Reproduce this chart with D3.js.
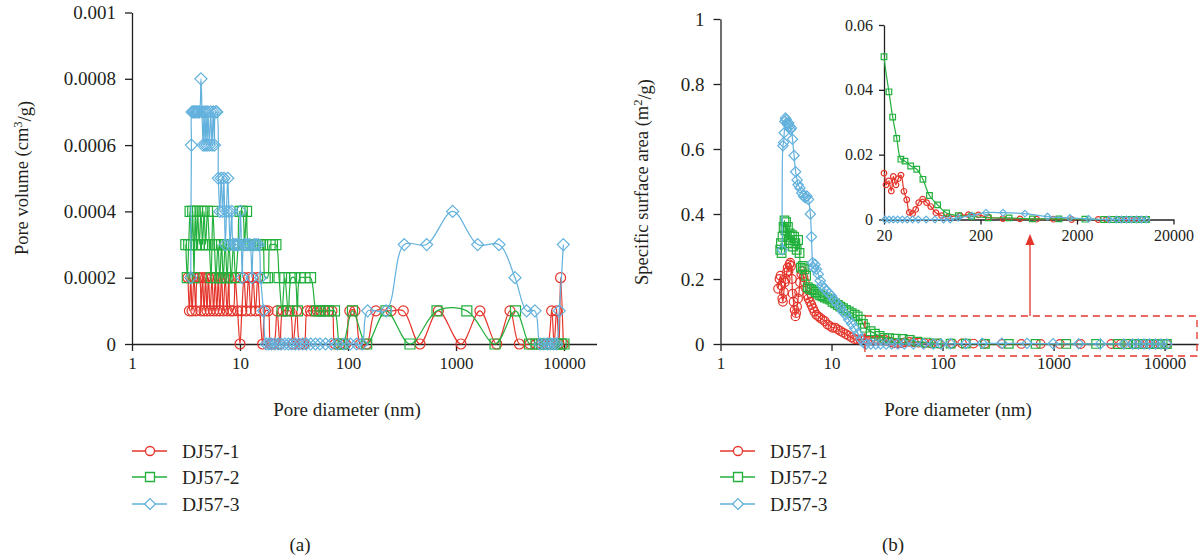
<!DOCTYPE html>
<html>
<head>
<meta charset="utf-8">
<script src="https://cdn.jsdelivr.net/npm/d3@7"></script>
<style>
  body { margin: 0; background: #fff; }
  svg, svg text { font-family: "Liberation Serif", "DejaVu Serif", serif !important; }
  text { fill: #231f20; }
</style>
</head>
<body>
<svg id="chart" width="1201" height="559"></svg>
<script>
// series names / colours / marker shapes
const seriesNames = ["DJ57-1", "DJ57-2", "DJ57-3"];
const seriesColors = ["#e4342a", "#22b03c", "#62b1dd"];
const seriesShapes = ["circle", "square", "diamond"];

// (a) pore volume, [pore diameter nm, cm3/g]
const volumeDJ1 = [[3.3,0.0002],[3.4,0.0001],[3.5,0.0002],[3.6,0.0001],[3.75,0.0002],[3.9,0.0001],[4.05,0.0002],[4.2,0.0002],[4.35,0.0001],[4.5,0.0002],[4.65,0.0001],[4.8,0.0002],[4.95,0.0001],[5.1,0.0002],[5.3,0.0001],[5.5,0.0002],[5.7,0.0001],[5.9,0.0002],[6.1,0.0001],[6.3,0.0002],[6.5,0.0001],[6.75,0.0002],[7.0,0.0001],[7.3,0.0002],[7.6,0.0001],[7.9,0.0002],[8.2,0.0001],[8.6,0.0001],[9.0,0.0002],[9.5,0.0001],[10.0,0],[10.4,0.0001],[10.9,0.0002],[11.4,0.0001],[12.0,0.0002],[12.6,0.0001],[13.2,0.0002],[13.9,0.0001],[14.6,0.0002],[15.3,0.0001],[16.2,0],[17.2,0.0001],[18.2,0.0001],[19.3,0],[20.5,0],[22,0.0001],[23.5,0],[25,0.0001],[27,0.0001],[29,0.0001],[31,0],[33.5,0.0001],[36,0],[39,0],[42,0.0001],[45,0.0001],[48,0.0001],[52,0.0001],[56,0.0001],[61,0.0001],[66,0.0001],[71,0.0001],[76,0],[84,0],[95,0],[104,0.0001],[116,0.0001],[130,0],[149,0],[181,0.0001],[250,0.0001],[325,0.0001],[464,0],[686,0.0001],[1112,0],[1667,0.0001],[2382,0],[3162,0.0001],[3856,0],[4842,0],[5500,0],[6200,0],[7000,0],[7690,0.0001],[8100,0],[8550,0.0001],[9000,0],[9300,0.0002],[9860,0]];
const volumeDJ2 = [[3.15,0.0003],[3.25,0.0002],[3.35,0.0003],[3.45,0.0004],[3.55,0.0003],[3.65,0.0004],[3.75,0.0002],[3.85,0.0004],[3.95,0.0003],[4.05,0.0004],[4.2,0.0003],[4.35,0.0004],[4.5,0.0003],[4.65,0.0004],[4.8,0.0003],[5.0,0.0004],[5.2,0.0003],[5.4,0.0002],[5.6,0.0004],[5.8,0.0003],[6.0,0.0002],[6.25,0.0003],[6.5,0.0002],[6.75,0.0003],[7.0,0.0002],[7.3,0.0003],[7.6,0.0002],[7.9,0.0003],[8.3,0.0002],[8.7,0.0003],[9.1,0.0002],[9.6,0.0003],[10.0,0.0004],[10.5,0.0004],[11.0,0.0003],[11.5,0.0004],[12.0,0.0003],[12.6,0.0003],[13.2,0.0003],[13.9,0.0003],[14.6,0.0003],[15.4,0.0003],[16.2,0.0003],[17.1,0.0002],[18.0,0.0002],[19.0,0.0003],[20,0.0003],[21.5,0.0003],[23,0.0002],[24.5,0.0001],[26,0.0002],[28,0.0001],[30,0.0002],[32,0.0002],[34,0.0001],[36,0.0002],[40,0.0002],[45,0.0002],[51,0.0001],[55,0.0001],[60,0.0001],[66,0.0001],[75,0.0001],[84,0],[90,0],[110,0.0001],[149,0],[225,0.0001],[375,0],[667,0.0001],[1260,0.0001],[2300,0],[3556,0.0001],[4800,0],[5500,0],[6200,0],[7000,0],[7800,0],[8600,0],[9400,0],[10000,0]];
const volumeDJ3 = [[3.5,0.0002],[3.55,0.0006],[3.6,0.0007],[3.7,0.0007],[3.8,0.0007],[3.9,0.0007],[4.0,0.0007],[4.1,0.0007],[4.2,0.0007],[4.35,0.0008],[4.45,0.0007],[4.55,0.0006],[4.65,0.0007],[4.75,0.0006],[4.85,0.0007],[4.95,0.0006],[5.05,0.0007],[5.2,0.0006],[5.35,0.0007],[5.5,0.0006],[5.65,0.0007],[5.8,0.0006],[5.95,0.0007],[6.1,0.0007],[6.3,0.0005],[6.5,0.0004],[6.7,0.0005],[6.9,0.0004],[7.1,0.0005],[7.3,0.0003],[7.5,0.0004],[7.7,0.0005],[7.9,0.0004],[8.1,0.0003],[8.4,0.0004],[8.7,0.0003],[9.0,0.0003],[9.4,0.0003],[9.7,0.0003],[10.1,0.0004],[10.5,0.0002],[10.9,0.0003],[11.3,0.0003],[11.8,0.0003],[12.3,0.0003],[12.9,0.0002],[13.5,0.0003],[14.1,0.0003],[14.8,0.0003],[15.5,0.0002],[16.5,0.0001],[17.5,0],[18.5,0],[19.5,0],[21,0],[22.5,0],[24,0],[26,0],[28,0],[30,0],[32.5,0],[35,0],[38,0],[41,0],[45,0],[50,0],[55,0],[62,0],[70,0],[80,0],[92,0],[105,0],[120,0],[135,0],[152,0.0001],[225,0.0001],[332,0.0003],[535,0.0003],[931,0.0004],[1587,0.0003],[2500,0.0003],[3518,0.0002],[4510,0.0001],[5380,0.0001],[6000,0],[6500,0],[7000,0],[7500,0],[8000,0],[8500,0],[9040,0.0001],[9860,0.0003]];

// (b) specific surface area, [pore diameter nm, m2/g]
const areaDJ1 = [[3.3,0.17],[3.4,0.2],[3.47,0.21],[3.53,0.18],[3.6,0.14],[3.65,0.13],[3.72,0.16],[3.8,0.19],[3.87,0.2],[3.95,0.22],[4.02,0.235],[4.1,0.225],[4.18,0.245],[4.25,0.25],[4.32,0.24],[4.4,0.2],[4.46,0.155],[4.55,0.13],[4.65,0.105],[4.73,0.085],[4.8,0.095],[4.9,0.115],[5.0,0.14],[5.1,0.16],[5.2,0.19],[5.35,0.215],[5.45,0.225],[5.6,0.205],[5.75,0.19],[5.9,0.17],[6.05,0.15],[6.2,0.14],[6.4,0.13],[6.6,0.12],[6.8,0.11],[7.0,0.1],[7.3,0.09],[7.6,0.085],[7.9,0.08],[8.3,0.075],[8.7,0.07],[9.2,0.06],[9.7,0.055],[10.2,0.05],[10.8,0.05],[11.4,0.045],[12,0.04],[12.7,0.035],[13.5,0.03],[14.3,0.025],[15.2,0.02],[16.1,0.015],[17.1,0.014],[18.2,0.013],[19.2,0.014],[20,0.0143],[21,0.0107],[22.4,0.0119],[23.8,0.0088],[25,0.0133],[26.6,0.0107],[28.1,0.0126],[30,0.0137],[32.2,0.0087],[34.4,0.0061],[36.6,0.0022],[39.6,0.0018],[42.6,0.0031],[45.8,0.0052],[50.3,0.0063],[55.3,0.0052],[61,0.004],[69,0.0021],[79,0.0012],[93,0.0009],[123,0.0012],[150,0.0015],[190,0.0014],[241,0.0007],[342,0.0003],[513,0.0002],[764,0.0001],[1139,0.0001],[1758,0],[3312,0],[4040,0],[5150,0],[6000,0],[6900,0],[7900,0],[9100,0],[10500,0]];
const areaDJ2 = [[3.45,0.29],[3.5,0.31],[3.55,0.28],[3.62,0.33],[3.7,0.36],[3.77,0.38],[3.84,0.35],[3.9,0.375],[3.97,0.33],[4.05,0.36],[4.12,0.32],[4.2,0.34],[4.3,0.31],[4.4,0.335],[4.5,0.3],[4.6,0.33],[4.72,0.31],[4.85,0.29],[5.0,0.32],[5.15,0.28],[5.3,0.235],[5.5,0.24],[5.7,0.23],[5.9,0.21],[6.1,0.175],[6.35,0.17],[6.6,0.168],[6.9,0.165],[7.2,0.16],[7.5,0.155],[7.9,0.15],[8.3,0.147],[8.7,0.143],[9.2,0.14],[9.7,0.137],[10.2,0.13],[10.8,0.125],[11.4,0.12],[12,0.115],[12.7,0.11],[13.5,0.105],[14.3,0.1],[15.2,0.095],[16.2,0.09],[17.2,0.085],[18.4,0.075],[19.2,0.062],[20,0.0502],[22.5,0.0394],[24.6,0.0316],[27.1,0.025],[29.9,0.0186],[33,0.018],[37.8,0.0165],[43.7,0.0155],[50.6,0.0124],[59.2,0.0074],[71.9,0.0045],[89,0.002],[118,0.0012],[162,0.001],[241,0.0005],[395,0.0005],[689,0.0002],[1300,0.0002],[2417,0.0001],[3780,0],[4700,0],[5500,0],[6400,0],[7400,0],[8500,0],[9600,0],[10500,0]];
const areaDJ3 = [[3.6,0.29],[3.65,0.61],[3.7,0.62],[3.75,0.65],[3.8,0.685],[3.85,0.695],[3.9,0.69],[3.97,0.68],[4.05,0.675],[4.12,0.68],[4.2,0.67],[4.27,0.66],[4.35,0.665],[4.45,0.63],[4.6,0.58],[4.75,0.53],[4.9,0.505],[5.0,0.49],[5.2,0.48],[5.4,0.465],[5.6,0.455],[5.8,0.45],[6.0,0.455],[6.2,0.445],[6.45,0.40],[6.6,0.33],[6.75,0.25],[6.9,0.235],[7.1,0.245],[7.3,0.23],[7.6,0.215],[7.9,0.195],[8.2,0.18],[8.6,0.17],[9.0,0.165],[9.5,0.155],[10,0.148],[10.6,0.135],[11.2,0.125],[11.9,0.115],[12.6,0.1],[13.4,0.09],[14.3,0.075],[15.2,0.062],[16.2,0.048],[17.3,0.032],[18.5,0.015],[19.6,0.003],[20.5,0],[22.6,0],[25,0],[27.7,0],[31,0],[34.8,0],[39.6,0],[45.3,0],[54.7,0],[67.4,0],[82.8,0],[96.9,0],[118,0.0005],[162,0.0012],[228,0.0021],[343,0.0021],[577,0.0018],[990,0.0009],[1687,0.0005],[2634,0.0002],[4300,0],[5150,0],[5800,0],[6530,0],[7300,0],[8270,0],[9300,0],[10470,0]];

// tick labels
const diameterTicks = [1, 10, 100, 1000, 10000];
const volumeTicks = [0, 0.0002, 0.0004, 0.0006, 0.0008, 0.001];
const areaTicks = [0, 0.2, 0.4, 0.6, 0.8, 1];
const insetDiameterTicks = [20, 200, 2000, 20000];
const insetAreaTicks = [0, 0.02, 0.04, 0.06];

const FONT = '"Liberation Serif", "DejaVu Serif", serif';
const svg = d3.select("#chart").attr("font-family", FONT);

function markerPath(shape, s) {
  if (shape === "circle") return `M${-s},0A${s},${s} 0 1,0 ${s},0A${s},${s} 0 1,0 ${-s},0Z`;
  if (shape === "square") return `M${-s},${-s}H${s}V${s}H${-s}Z`;
  return `M0,${-s}L${s},0L0,${s}L${-s},0Z`;
}

const markerSizes = { circle: 1, square: 1, diamond: 1.2 };

function drawSeries(g, data, x, y, i, size, clip) {
  const line = d3.line()
    .x(d => x(d[0]))
    .y(d => y(d[1]))
    .curve(d3.curveCatmullRom.alpha(0.5));
  const sg = g.append("g");
  const path = sg.append("path")
    .datum(data)
    .attr("fill", "none")
    .attr("stroke", seriesColors[i])
    .attr("stroke-width", 1.2)
    .attr("d", line);
  if (clip) path.attr("clip-path", `url(#${clip})`);
  sg.selectAll("path.mark")
    .data(clip ? data.filter(d => d[0] >= 20) : data)
    .join("path")
    .attr("class", "mark")
    .attr("transform", d => `translate(${x(d[0])},${y(d[1])})`)
    .attr("d", markerPath(seriesShapes[i], size * markerSizes[seriesShapes[i]]))
    .attr("fill", "none")
    .attr("stroke", seriesColors[i])
    .attr("stroke-width", 1.2);
}

function drawAxes(g, x, y, xTicks, yTicks, opts) {
  const minor = opts.minorTicks || x.ticks().filter(t => !xTicks.includes(t));
  const gx = g.append("g").attr("transform", `translate(0,${y.range()[0]})`);
  gx.call(d3.axisBottom(x).tickValues(minor).tickSize(opts.minorSize).tickSizeOuter(0).tickFormat(""));
  gx.call(d3.axisBottom(x).tickValues(xTicks).tickSize(opts.majorSize).tickSizeOuter(0)
    .tickPadding(opts.padX).tickFormat(d3.format("d")));
  gx.attr("font-family", FONT);
  gx.selectAll("line, path").attr("stroke", "#231f20").attr("stroke-width", 1.3);
  gx.selectAll("text").style("font-family", FONT).style("font-size", opts.xFont + "px").style("fill", "#231f20");

  const gy = g.append("g").attr("transform", `translate(${x.range()[0]},0)`);
  gy.call(d3.axisLeft(y).tickValues(yTicks).tickSize(opts.majorSize).tickSizeOuter(0)
    .tickPadding(opts.padY).tickFormat(d => String(d)));
  gy.attr("font-family", FONT);
  gy.selectAll("line, path").attr("stroke", "#231f20").attr("stroke-width", 1.3);
  gy.selectAll("text").style("font-family", FONT).style("font-size", opts.yFont + "px").style("fill", "#231f20");
}

function drawLegend(lx, rows) {
  const lg = svg.append("g");
  seriesNames.forEach((name, i) => {
    const ly = rows[i];
    lg.append("line").attr("x1", lx).attr("x2", lx + 35).attr("y1", ly).attr("y2", ly)
      .attr("stroke", seriesColors[i]).attr("stroke-width", 1.5);
    lg.append("path").attr("transform", `translate(${lx + 18},${ly})`)
      .attr("d", markerPath(seriesShapes[i], 4.5 * markerSizes[seriesShapes[i]]))
      .attr("fill", "#fff").attr("stroke", seriesColors[i]).attr("stroke-width", 1.3);
    lg.append("text").attr("x", lx + 50).attr("y", ly).attr("dy", "0.35em")
      .style("font-family", FONT).attr("font-size", 19.5).text(name);
  });
}

function yTitle(x, y, main, sup, tail) {
  const t = svg.append("text")
    .attr("transform", `translate(${x},${y}) rotate(-90)`)
    .attr("text-anchor", "middle")
    .style("font-family", FONT)
    .attr("font-size", 18.5);
  t.append("tspan").text(main);
  t.append("tspan").attr("dy", "-0.45em").attr("font-size", 12.5).text(sup);
  t.append("tspan").attr("dy", "0.45em").text(tail);
}

function plainText(x, y, str) {
  svg.append("text").attr("x", x).attr("y", y).attr("text-anchor", "middle")
    .style("font-family", FONT).attr("font-size", 19).text(str);
}

const legendRows = [451, 477, 504];
const mainAxisOpts = { xFont: 17, yFont: 19, majorSize: 7, minorSize: 4, padX: 6, padY: 9 };

// ---------- panel (a) ----------
const xA = d3.scaleLog().domain([1, 20000]).range([132, 596.5]);
const yA = d3.scaleLinear().domain([0, 0.001]).range([344, 12.5]);
const gA = svg.append("g");
drawAxes(gA, xA, yA, diameterTicks, volumeTicks, mainAxisOpts);
[volumeDJ1, volumeDJ2, volumeDJ3].forEach((s, i) => drawSeries(gA, s, xA, yA, i, 5));
plainText(347, 416, "Pore diameter (nm)");
yTitle(28, 178, "Pore volume (cm", "3", "/g)");
drawLegend(132, legendRows);
plainText(300, 551, "(a)");

// ---------- panel (b) ----------
const xB = d3.scaleLog().domain([1, 20000]).range([720.5, 1198]);
const yB = d3.scaleLinear().domain([0, 1]).range([344, 19]);
const gB = svg.append("g");
drawAxes(gB, xB, yB, diameterTicks, areaTicks, mainAxisOpts);
[areaDJ1, areaDJ2, areaDJ3].forEach((s, i) => drawSeries(gB, s, xB, yB, i, 4.3));
plainText(958, 416, "Pore diameter (nm)");
yTitle(648, 182, "Specific surface area (m", "2", "/g)");
drawLegend(720, legendRows);
plainText(893, 551, "(b)");

// zoom box and arrow
svg.append("rect")
  .attr("x", xB(20)).attr("y", 316)
  .attr("width", 1197 - xB(20)).attr("height", 40)
  .attr("fill", "none").attr("stroke", "#e4342a").attr("stroke-width", 1.3)
  .attr("stroke-dasharray", "7,5");
svg.append("line").attr("x1", 1030).attr("x2", 1030).attr("y1", 316).attr("y2", 244)
  .attr("stroke", "#e4342a").attr("stroke-width", 1.3);
svg.append("path").attr("d", "M1030,234L1034.5,245L1025.5,245Z").attr("fill", "#e4342a");

// ---------- inset ----------
const xI = d3.scaleLog().domain([20, 20000]).range([884, 1173.5]);
const yI = d3.scaleLinear().domain([0, 0.06]).range([219.5, 25]);
const gI = svg.append("g");
svg.append("defs").append("clipPath").attr("id", "insetClip")
  .append("rect").attr("x", xI(20)).attr("y", 25).attr("width", 300).attr("height", 200);
const insetMinor = [];
insetDiameterTicks.slice(0, 3).forEach(m => [2, 3, 4, 5, 6, 7, 8, 9].forEach(k => insetMinor.push(m * k)));
drawAxes(gI, xI, yI, insetDiameterTicks, insetAreaTicks,
  { xFont: 16, yFont: 16, majorSize: 5, minorSize: 3, padX: 5, padY: 6, minorTicks: insetMinor });
[areaDJ1, areaDJ2, areaDJ3].forEach((s, i) =>
  drawSeries(gI, s.filter(d => d[0] >= 17), xI, yI, i, 2.8, "insetClip"));
</script>
</body>
</html>
